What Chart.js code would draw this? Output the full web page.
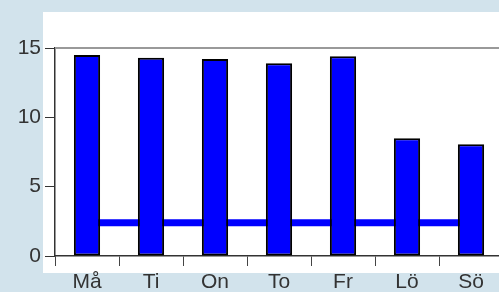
<!DOCTYPE html>
<html>
<head>
<meta charset="utf-8">
<script src="https://cdn.jsdelivr.net/npm/chart.js@4"></script>
<style>
    html, body { margin: 0; padding: 0; overflow: hidden; background: #d2e3ec; }
    #wrap { width: 504px; height: 292px; }
</style>
</head>
<body>
<div id="wrap"><canvas id="chart" width="504" height="292"></canvas></div>
<script>
// Chart data
const days = ["Må", "Ti", "On", "To", "Fr", "Lö", "Sö"];
const dayValues = [14.5, 14.3, 14.2, 13.9, 14.4, 8.5, 8.05];
const lineValues = [2.4, 2.4, 2.4, 2.4, 2.4, 2.4, 2.4];
const yTicks = [0, 5, 10, 15];

// Background panel and top border line
const panelPlugin = {
    id: "panel",
    beforeDraw(chart) {
        const ctx = chart.ctx;
        ctx.save();
        ctx.fillStyle = "#d2e3ec";
        ctx.fillRect(0, 0, chart.width, chart.height);
        ctx.fillStyle = "#ffffff";
        ctx.fillRect(43, 12, chart.width - 43, 261);
        ctx.restore();
    },
    afterDraw(chart) {
        const ctx = chart.ctx;
        const a = chart.chartArea;
        ctx.save();
        ctx.strokeStyle = "#999999";
        ctx.lineWidth = 2;
        ctx.beginPath();
        ctx.moveTo(a.left, a.top);
        ctx.lineTo(chart.width, a.top);
        ctx.stroke();
        ctx.restore();
    }
};

new Chart(document.getElementById("chart"), {
    type: "bar",
    data: {
        labels: days,
        datasets: [
            {
                type: "bar",
                data: dayValues,
                backgroundColor: "#0000ff",
                borderColor: "#000000",
                borderWidth: 2,
                borderSkipped: false,
                barPercentage: 0.41,
                categoryPercentage: 1,
                order: 1
            },
            {
                type: "line",
                data: lineValues,
                borderColor: "#0000ff",
                borderWidth: 7,
                pointRadius: 0,
                fill: false,
                order: 2
            }
        ]
    },
    options: {
        responsive: false,
        animation: false,
        layout: { padding: { top: 48, right: 1, left: 0, bottom: 0 } },
        plugins: {
            legend: { display: false },
            tooltip: { enabled: false }
        },
        scales: {
            x: {
                grid: {
                    display: true,
                    drawOnChartArea: false,
                    tickLength: 10,
                    color: "#444444"
                },
                border: { color: "#333333", width: 1.5 },
                ticks: {
                    color: "#333333",
                    font: { family: "Liberation Sans, Arial", size: 21 },
                    padding: 4,
                    maxRotation: 0
                },
                afterFit(scale) { scale.height = 36; }
            },
            y: {
                min: 0,
                max: 15,
                afterBuildTicks(scale) {
                    scale.ticks = yTicks.map(v => ({ value: v }));
                },
                grid: {
                    display: true,
                    drawOnChartArea: false,
                    tickLength: 10,
                    color: "#333333"
                },
                border: { color: "#333333", width: 1.5 },
                ticks: {
                    color: "#333333",
                    font: { family: "Liberation Sans, Arial", size: 21 },
                    padding: 4
                },
                afterFit(scale) { scale.width = 55; }
            }
        }
    },
    plugins: [panelPlugin]
});
</script>
</body>
</html>
